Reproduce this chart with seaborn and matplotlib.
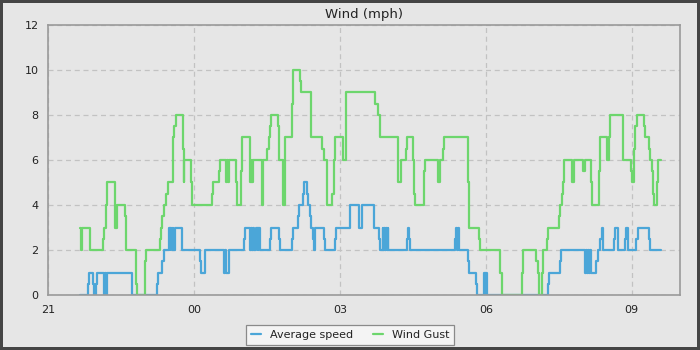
import matplotlib
matplotlib.use("Agg")
import matplotlib.pyplot as plt
import seaborn as sns
import pandas as pd
import numpy as np
from matplotlib.ticker import MultipleLocator

# minutes after 21:00 where the value changes (step-post), last entry = end of data
gust_min = [39.2, 40.4, 41.3, 51.2, 68.1, 69.3, 71.3, 73.0, 82.0, 82.6, 84.8, 94.7, 96.4,
            107.9, 109.5, 119.0, 120.6, 137.5, 138.7, 140.8, 142.4, 145.7, 147.7, 153.9,
            155.6, 157.2, 166.2, 167.1, 167.9, 176.6, 177.8, 201.6, 203.2, 210.2, 211.8,
            219.7, 220.7, 221.7, 222.5, 232.0, 233.3, 237.3, 238.9, 248.4, 249.3, 250.9,
            251.8, 252.5, 263.6, 265.3, 270.3, 271.9, 273.5, 274.7, 283.3, 284.6, 289.5,
            291.6, 300.2, 301.4, 310.1, 311.3, 323.6, 324.5, 338.1, 339.7, 343.7, 350.4,
            352.0, 353.2, 363.5, 366.8, 403.4, 406.6, 408.7, 432.1, 435.5, 440.8, 442.4,
            450.6, 451.0, 452.7, 463.0, 464.2, 465.4, 480.6, 483.5, 486.7, 488.8, 518.4,
            519.7, 532.0, 533.2, 557.9, 559.5, 584.2, 585.4, 601.9, 603.9, 605.1, 609.3,
            610.9, 615.5, 617.1, 630.6, 631.9, 634.0, 635.6, 636.8, 646.3, 649.1, 659.4,
            662.3, 669.7, 670.9, 680.0, 681.2, 688.9, 692.3, 693.1, 708.7, 709.5, 719.0,
            720.3, 722.2, 724.3, 726.4, 735.4, 736.7, 740.7, 742.5, 744.9, 746.5, 746.9,
            750.6, 751.8, 756.0]
gust_val = [3, 2, 3, 2, 2.5, 3, 4, 5, 4, 3, 4, 3.5, 2,
            0.5, 0, 1.5, 2, 2.5, 3, 3.5, 4, 4.5, 5, 7,
            7.5, 8, 6.5, 5, 6, 5, 4, 4.5, 5, 5.5, 6,
            5, 6, 5, 6, 5, 4, 5.5, 7, 6, 5, 6,
            5, 6, 4, 6, 6.5, 7, 7.5, 8, 7.5, 6, 4,
            7, 8.5, 10, 9.5, 9, 8, 7, 6.5, 6, 4, 4.5,
            6, 7, 6, 9, 8.5, 8, 7, 5, 6, 6.5, 7,
            6, 4.5, 4, 4.5, 5.5, 6, 5, 6, 6.5, 7, 5,
            3, 2.5, 2, 1, 0, 1, 2, 1.5, 1, 0, 1,
            2, 2.5, 3, 3.5, 4, 4.5, 5, 6, 5, 6, 5.5,
            6, 5, 4, 5.5, 7, 6, 7, 8, 7, 6, 5.5,
            5, 6.5, 7.5, 8, 7.5, 7, 6.5, 6, 5.5, 4.5, 4,
            5, 6, 6]

avg_min = [38.8, 49.1, 50.3, 55.2, 56.5, 59.4, 60.7, 68.8, 70.0, 70.9, 73.0, 102.9,
           134.1, 135.9, 140.8, 142.4, 148.9, 149.8, 150.7, 151.4, 152.6, 153.1, 153.9,
           154.4, 156.0, 165.0, 186.8, 188.0, 193.3, 217.2, 218.5, 219.7, 222.5, 241.0,
           242.3, 249.3, 250.0, 250.9, 252.5, 253.7, 256.7, 258.3, 259.2, 261.6, 274.0,
           275.2, 284.6, 285.4, 300.6, 301.8, 308.0, 309.2, 314.1, 315.4, 319.1, 320.3,
           322.4, 323.6, 326.5, 327.3, 328.9, 339.7, 340.9, 353.2, 354.5, 371.7, 382.8,
           386.9, 401.3, 402.5, 407.8, 408.7, 412.4, 413.3, 414.0, 415.3, 416.5, 417.7,
           418.6, 419.4, 442.9, 443.6, 444.8, 446.6, 502.0, 503.3, 504.5, 505.2, 507.3,
           518.4, 519.7, 527.9, 529.2, 537.3, 538.5, 539.4, 541.5, 617.1, 618.3, 631.9,
           633.1, 662.3, 663.5, 664.8, 665.5, 667.6, 668.5, 669.7, 675.9, 677.9, 680.8,
           682.8, 684.9, 698.4, 699.7, 702.5, 712.0, 712.9, 715.7, 725.2, 727.2, 740.7,
           742.5, 756.0]
avg_val = [0, 0.5, 1, 0.5, 0, 0.5, 1, 0, 1, 0, 1, 0,
           0.5, 1, 1.5, 2, 3, 2, 3, 2.5, 3, 2, 3,
           2, 3, 2, 1.5, 1, 2, 1, 2, 1, 2, 2.5,
           3, 2, 3, 2, 3, 2, 3, 2, 3, 2, 2.5,
           3, 2.5, 2, 2.5, 3, 3.5, 4, 4.5, 5, 4.5, 4,
           3.5, 3, 2.5, 2, 3, 2.5, 2, 2.5, 3, 4, 3,
           4, 3.5, 3, 2.5, 2, 3, 2, 3, 2, 3, 2,
           3, 2, 2.5, 3, 2.5, 2, 2.5, 3, 2, 3, 2,
           1.5, 1, 0.5, 0, 1, 0, 1, 0, 0.5, 1, 1.5,
           2, 1, 2, 1, 2, 1, 2, 1, 1.5, 2, 2.5,
           3, 2, 2.5, 3, 2, 2.5, 3, 2, 2.5, 3, 2.5,
           2, 2]

x_ticks_hours = [0, 3, 6, 9, 12]
x_tick_labels = ["21", "00", "03", "06", "09"]
series_names = ["Average speed", "Wind Gust"]
colors = ["#4ba6d8", "#6dd66d"]

df = pd.concat([
    pd.DataFrame({"hours": np.array(avg_min) / 60, "mph": avg_val, "series": series_names[0]}),
    pd.DataFrame({"hours": np.array(gust_min) / 60, "mph": gust_val, "series": series_names[1]}),
])

sns.set_style("white")
plt.rcParams['font.family'] = ['DejaVu Sans']

bg = "#e6e6e6"
fig = plt.figure(figsize=(7, 3.5), dpi=100, facecolor=bg, edgecolor="#454545", linewidth=3)
ax = fig.add_axes([0.069, 0.157, 0.903, 0.772])
ax.set_facecolor(bg)

sns.lineplot(data=df, x="hours", y="mph", hue="series", palette=colors,
             estimator=None, sort=False, drawstyle="steps-post", linewidth=1.6, ax=ax,
             legend=True)

ax.set_xlim(0, 13)
ax.set_ylim(0, 12)
ax.set_xticks(x_ticks_hours)
ax.set_xticklabels(x_tick_labels)
ax.xaxis.set_minor_locator(MultipleLocator(1))
ax.yaxis.set_major_locator(MultipleLocator(2))
ax.yaxis.set_minor_locator(MultipleLocator(1))
ax.tick_params(axis="both", which="major", direction="out", length=5, width=1,
               color="#222222", labelsize=8, labelcolor="#222222", pad=2)
ax.tick_params(axis="both", which="minor", direction="out", length=3, width=1, color="#222222")
ax.grid(True, which="major", linestyle=(0, (4, 3)), color="#c2c2c2", linewidth=0.9)
ax.set_axisbelow(True)
for sp in ax.spines.values():
    sp.set_color("#9a9a9a")
    sp.set_linewidth(1.2)
ax.set_xlabel("")
ax.set_ylabel("")
ax.set_title("Wind (mph)", fontsize=9.5, color="#222222", pad=5)

handles, labels = ax.get_legend_handles_labels()
ax.get_legend().remove()
leg = fig.legend(handles, labels, loc="upper center", bbox_to_anchor=(0.5, 0.072),
                 bbox_transform=fig.transFigure, ncol=2, frameon=True, borderaxespad=0,
                 fancybox=False, edgecolor="#8a8a8a", facecolor="#f4f4f4", fontsize=8,
                 handlelength=0.9, columnspacing=1.8, borderpad=0.45, framealpha=1)
leg.get_frame().set_linewidth(0.9)
for t in leg.get_texts():
    t.set_color("#222222")

fig.savefig("out.png", dpi=100, facecolor=bg, edgecolor=fig.get_edgecolor())
